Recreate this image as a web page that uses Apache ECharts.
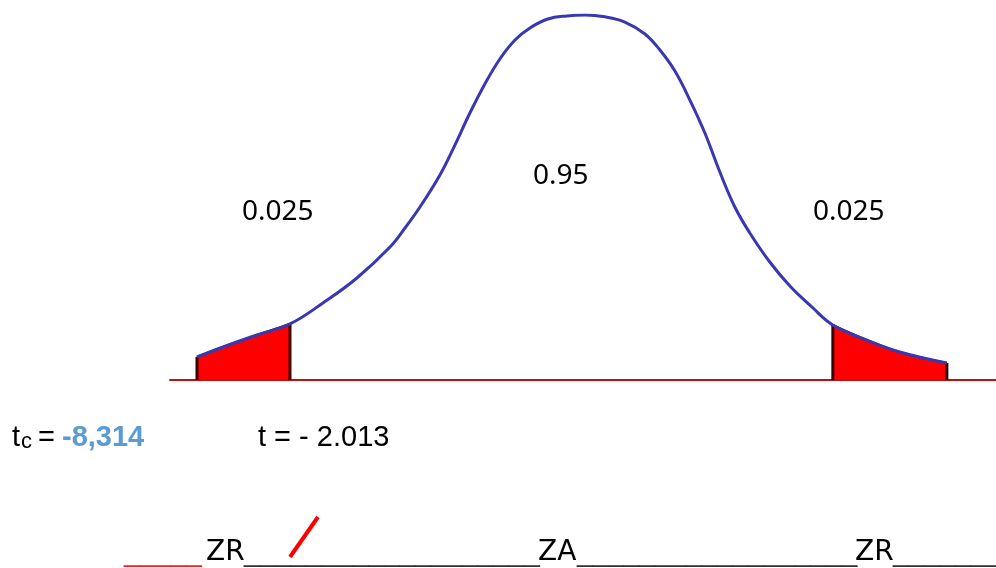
<!DOCTYPE html>
<html>
<head>
<meta charset="utf-8">
<script src="https://cdn.jsdelivr.net/npm/echarts@6/dist/echarts.min.js"></script>
<style>
  html, body { margin: 0; padding: 0; background: #fff; }
  #chart { width: 996px; height: 568px; }
</style>
</head>
<body>
<div id="chart"></div>
<script>
// 분포 곡선
const curveT = [-2.700, -2.507, -2.256, -2.011, -1.767, -1.515, -1.270, -1.159, -1.048, -0.900, -0.789, -0.678, -0.567, -0.456, -0.344, -0.233, -0.100, 0.041, 0.174, 0.322, 0.470, 0.619, 0.730, 0.841, 0.952, 1.063, 1.174, 1.285, 1.396, 1.544, 1.693, 1.856, 2.011, 2.263, 2.507, 2.856];
const curveY = [0.0252, 0.0362, 0.0493, 0.0614, 0.0844, 0.1118, 0.1458, 0.1666, 0.1896, 0.2247, 0.2575, 0.2926, 0.3244, 0.3518, 0.3726, 0.3858, 0.3956, 0.3990, 0.4000, 0.3980, 0.3923, 0.3792, 0.3616, 0.3386, 0.3068, 0.2707, 0.2279, 0.1896, 0.1611, 0.1293, 0.1030, 0.0800, 0.0603, 0.0438, 0.0307, 0.0186];

// 임계값
const tLow = -2.01;
const tHigh = 2.01;

// 텍스트
const areaLabels = ["0.025", "0.95", "0.025"];
const tcValue = "-8,314";
const tText = "t = - 2.013";
const zoneLabels = ["ZR", "ZA", "ZR"];

let chart = echarts.init(document.getElementById("chart"));

let curveData = curveT.map((t, i) => [t, curveY[i]]);
let leftTail = curveData.filter((p) => p[0] <= tLow);
let rightTail = curveData.filter((p) => p[0] >= tHigh);

// 꼬리 영역 세로 테두리
let edgePoints = [leftTail[0], leftTail[leftTail.length - 1], rightTail[0], rightTail[rightTail.length - 1]];
let edgeSeries = edgePoints.map((p) => ({
  type: "line",
  data: [[p[0], 0], [p[0], p[1]]],
  symbol: "none",
  lineStyle: { color: "#3a0000", width: 3 },
  z: 2,
  silent: true,
}));

function tailSeries(data) {
  return {
    type: "line",
    data: data,
    smooth: 0.4,
    symbol: "none",
    lineStyle: { color: "#3a0000", width: 2 },
    areaStyle: { color: "#ff0000", opacity: 1 },
    z: 1,
    silent: true,
  };
}

let option = {
  backgroundColor: "#ffffff",
  animation: false,
  grid: { left: 170, right: 0, top: 15, bottom: 188 },
  xAxis: {
    type: "value",
    min: -2.9,
    max: 3.22,
    axisLine: { show: true, lineStyle: { color: "#b81414", width: 2 } },
    axisTick: { show: false },
    axisLabel: { show: false },
    splitLine: { show: false },
  },
  yAxis: {
    type: "value",
    min: 0,
    max: 0.4,
    show: false,
    splitLine: { show: false },
  },
  series: [
    tailSeries(leftTail),
    tailSeries(rightTail),
    ...edgeSeries,
    {
      type: "line",
      data: curveData,
      smooth: 0.4,
      symbol: "none",
      lineStyle: { color: "#3838b0", width: 3 },
      z: 3,
      silent: true,
    },
  ],
  graphic: [
    { type: "text", x: 242, y: 212, style: { text: areaLabels[0], fontSize: 28, fontFamily: "Noto Sans", fill: "#000", verticalAlign: "middle" } },
    { type: "text", x: 533, y: 176, style: { text: areaLabels[1], fontSize: 28, fontFamily: "Noto Sans", fill: "#000", verticalAlign: "middle" } },
    { type: "text", x: 813, y: 212, style: { text: areaLabels[2], fontSize: 28, fontFamily: "Noto Sans", fill: "#000", verticalAlign: "middle" } },

    // tc = -8,314
    { type: "text", x: 12, y: 438, style: { text: "t", fontSize: 29, fontFamily: "Liberation Sans", fill: "#000", verticalAlign: "middle" } },
    { type: "text", x: 21, y: 442, style: { text: "c", fontSize: 22, fontFamily: "Liberation Sans", fill: "#000", verticalAlign: "middle" } },
    { type: "text", x: 38, y: 438, style: { text: "=", fontSize: 29, fontFamily: "Liberation Sans", fill: "#000", verticalAlign: "middle" } },
    { type: "text", x: 62, y: 438, style: { text: tcValue, fontSize: 29, fontWeight: "bold", fontFamily: "Liberation Sans", fill: "#5b9bd5", verticalAlign: "middle" } },
    { type: "text", x: 258, y: 438, style: { text: tText, fontSize: 29, fontFamily: "Liberation Sans", fill: "#000", verticalAlign: "middle" } },

    // 하단 영역 표시
    { type: "text", x: 124, y: 553, style: { text: "_____", fontSize: 28, fontFamily: "Liberation Sans", fill: "#ff2020", verticalAlign: "middle" } },
    { type: "text", x: 206, y: 553, style: { text: zoneLabels[0], fontSize: 28, fontFamily: "DejaVu Sans", fill: "#000", verticalAlign: "middle" } },
    { type: "text", x: 244, y: 553, style: { text: "___________________", fontSize: 28, fontFamily: "Liberation Sans", fill: "#333", verticalAlign: "middle" } },
    { type: "text", x: 538, y: 553, style: { text: zoneLabels[1], fontSize: 28, fontFamily: "DejaVu Sans", fill: "#000", verticalAlign: "middle" } },
    { type: "text", x: 577, y: 553, style: { text: "__________________", fontSize: 28, fontFamily: "Liberation Sans", fill: "#333", verticalAlign: "middle" } },
    { type: "text", x: 855, y: 553, style: { text: zoneLabels[2], fontSize: 28, fontFamily: "DejaVu Sans", fill: "#000", verticalAlign: "middle" } },
    { type: "text", x: 893, y: 553, style: { text: "_______", fontSize: 28, fontFamily: "Liberation Sans", fill: "#333", verticalAlign: "middle" } },
    { type: "line", shape: { x1: 290, y1: 557, x2: 318, y2: 517 }, style: { stroke: "#ff0000", lineWidth: 4 } },
  ],
};
chart.setOption(option);
</script>
</body>
</html>
